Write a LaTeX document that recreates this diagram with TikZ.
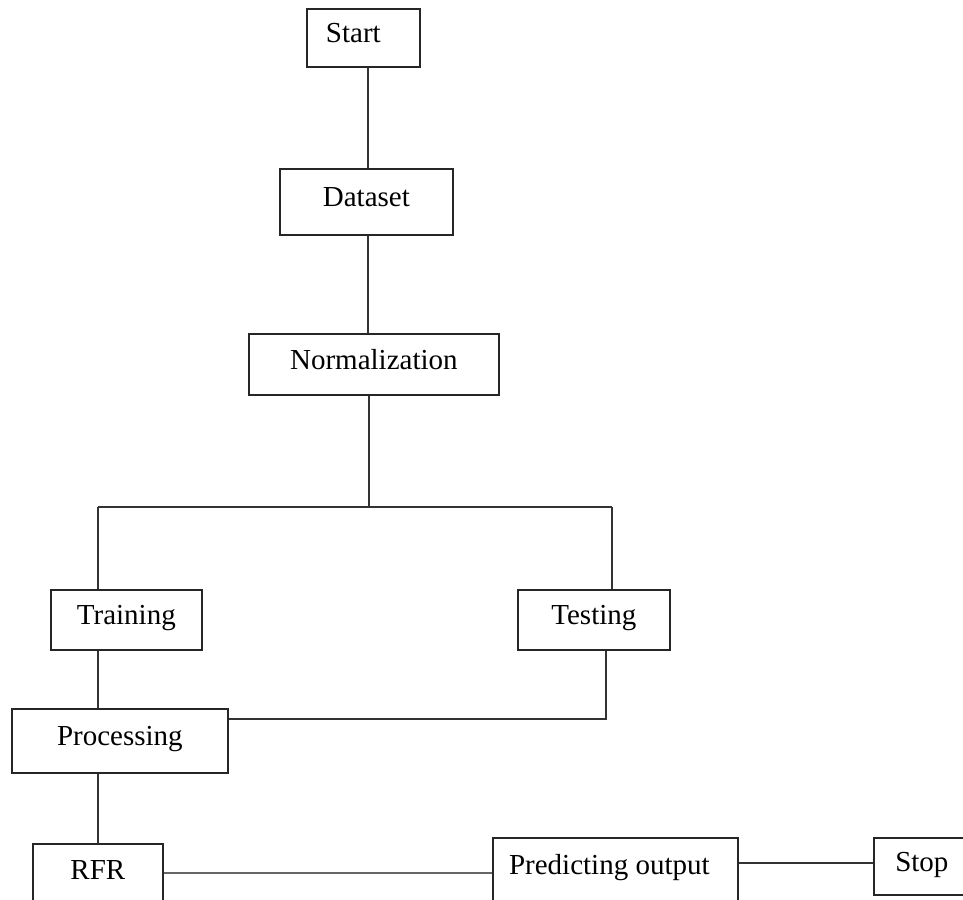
\documentclass[tikz,border=0pt]{standalone}
\usepackage{fontspec}
\setmainfont{Liberation Serif}
\begin{document}
\begin{tikzpicture}[x=1pt,y=-1pt,
  box/.style={draw=black!85, line width=1.7pt, fill=white, rectangle, inner sep=0pt,
    anchor=north west, text height=20pt, text depth=10pt,
    font=\fontsize{29}{34}\selectfont},
  conn/.style={draw=black!80, line width=1.6pt}]
\useasboundingbox (0,0) rectangle (963,899);
\clip (0,0) rectangle (963,899);
% boxes
\node[box, minimum width=113pt, minimum height=58pt] (start) at (306,8) {\hspace*{-20pt}Start};
\node[box, minimum width=173pt, minimum height=66pt] (dataset) at (279,168) {Dataset};
\node[box, minimum width=250pt, minimum height=61pt] (norm) at (248,333) {Normalization};
\node[box, minimum width=151pt, minimum height=60pt] (training) at (50,589) {Training};
\node[box, minimum width=152pt, minimum height=60pt] (testing) at (517,589) {Testing};
\node[box, minimum width=216pt, minimum height=64pt] (processing) at (11,708) {Processing};
\node[box, minimum width=130pt, minimum height=62pt] (rfr) at (32,843) {RFR};
\node[box, minimum width=245pt, minimum height=64pt] (pred) at (492,837) {\hspace*{-12pt}Predicting output};
\node[box, minimum width=113pt, minimum height=57pt] (stop) at (873,837) {\hspace*{-17pt}Stop};
% helper coordinates
\coordinate (topx) at (368,0);
\coordinate (split) at (369,507);
\coordinate (tl) at (98,507);
\coordinate (tr) at (612,507);
\coordinate (tc) at (606,719);
\coordinate (rp) at (0,873);
\coordinate (ps) at (0,863);
% connectors
\draw[conn] (start.south -| topx) -- (dataset.north -| topx);
\draw[conn] (dataset.south -| topx) -- (norm.north -| topx);
\draw[conn] (norm.south -| split) -- (split);
\draw[conn] (tl) -- (tr);
\draw[conn] (tl) -- (training.north -| tl);
\draw[conn] (tr) -- (testing.north -| tr);
\draw[conn] (training.south -| tl) -- (processing.north -| tl);
\draw[conn] (testing.south -| tc) -- (tc) -- (processing.east |- tc);
\draw[conn] (processing.south -| tl) -- (rfr.north -| tl);
\draw[conn, draw=black!60] (rfr.east |- rp) -- (pred.west |- rp);
\draw[conn] (pred.east |- ps) -- (stop.west |- ps);
\end{tikzpicture}
\end{document}
